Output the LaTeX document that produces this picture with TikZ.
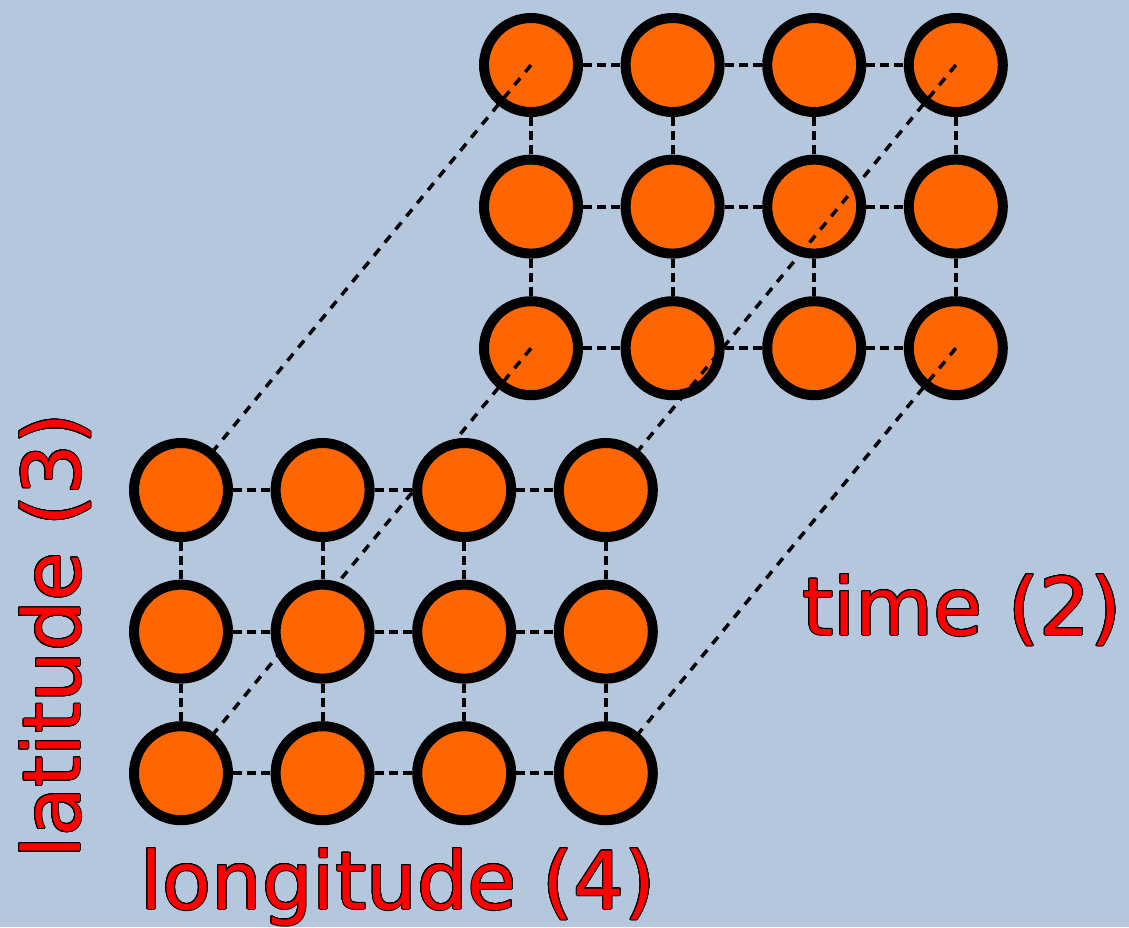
\documentclass[tikz,border=0pt]{standalone}
\usepackage{fontspec}
\setmainfont{DejaVu Sans}
\usepackage{contour}
\contourlength{0.5pt}
\usetikzlibrary{positioning}
\definecolor{sky}{RGB}{180,199,221}
\definecolor{dot}{RGB}{255,102,0}
\pgfdeclarelayer{behind}
\pgfdeclarelayer{mid}
\pgfsetlayers{behind,mid,main}

\begin{document}
\begin{tikzpicture}[x=0.5pt,y=-0.5pt,
    cell/.style={circle,draw,fill=dot,line width=5pt,minimum size=47pt,inner sep=0pt},
    link/.style={line width=2pt,dash pattern=on 4.5pt off 2.5pt},
    depth/.style={line width=1.75pt,dash pattern=on 4.5pt off 4pt},
    axis/.style={text=red,font=\fontsize{40}{48}\selectfont}]
      \useasboundingbox (0,0) rectangle (1129,927);
      % back grid (time 2)
      \begin{pgfonlayer}{behind}
        \fill[sky] (0,0) rectangle (1129,927);
        \foreach \r in {1,2,3} \foreach \c in {1,...,4}
          \node[cell] (b-\r-\c) at ({531+141.6*(\c-1)},{65+141.6*(\r-1)}) {};
        \foreach \r in {1,2,3} \foreach \c/\n in {1/2,2/3,3/4}
          \draw[link] (b-\r-\c) -- (b-\r-\n);
        \foreach \r/\n in {1/2,2/3} \foreach \c in {1,...,4}
          \draw[link] (b-\r-\c) -- (b-\n-\c);
      \end{pgfonlayer}
      % front grid (time 1)
      \foreach \r in {1,2,3} \foreach \c in {1,...,4}
        \node[cell] (f-\r-\c) at ({181+141.6*(\c-1)},{490+141.6*(\r-1)}) {};
      \foreach \r in {1,2,3} \foreach \c/\n in {1/2,2/3,3/4}
        \draw[link] (f-\r-\c) -- (f-\r-\n);
      \foreach \r/\n in {1/2,2/3} \foreach \c in {1,...,4}
        \draw[link] (f-\r-\c) -- (f-\n-\c);
      % corners back to front
      \begin{pgfonlayer}{mid}
        \foreach \r/\c in {1/1,1/4,3/1,3/4}
          \draw[depth] (b-\r-\c.center) -- (f-\r-\c);
      \end{pgfonlayer}
      % axis labels
      \node[axis,anchor=base] (time) at (962,635) {\contour{black}{time (2)}};
      \node[axis,anchor=base] (lon) at (398,909) {\contour{black}{longitude (4)}};
      \node[axis,anchor=base,rotate=90] (lat) at (80,636) {\contour{black}{latitude (3)}};
\end{tikzpicture}
\end{document}
